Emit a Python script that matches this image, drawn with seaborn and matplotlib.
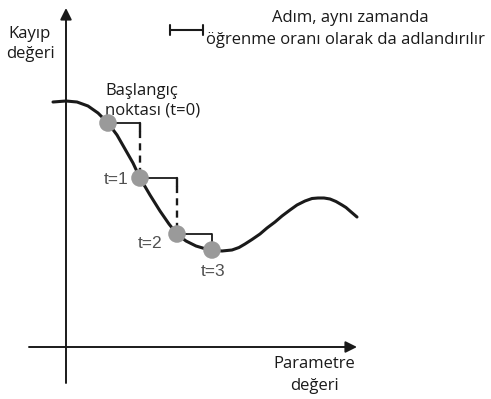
import matplotlib
matplotlib.use("Agg")
import matplotlib.pyplot as plt
import seaborn as sns
import pandas as pd

# Loss curve sampled along the parameter axis
curve_x = [-1.3, 0.0, 1.1, 2.2, 3.2, 4.2, 5.1, 5.9, 6.7, 7.4, 8.4, 9.4, 10.3, 11.1,
           12.0, 13.0, 14.0, 14.6, 15.6, 16.6, 17.3, 17.9, 18.6, 19.4, 20.1, 20.9,
           21.6, 22.4, 23.1, 23.9, 24.6, 25.2, 25.8, 26.4, 27.0, 27.6, 28.0, 28.4,
           29.1]
curve_y = [24.5, 24.6, 24.5, 24.1, 23.4, 22.4, 21.2, 19.8, 18.4, 16.9, 15.2, 13.6,
           12.3, 11.3, 10.6, 10.1, 9.8, 9.7, 9.6, 9.7, 9.95, 10.3, 10.75, 11.3,
           11.9, 12.5, 13.1, 13.7, 14.2, 14.6, 14.85, 14.9, 14.9, 14.8, 14.55,
           14.2, 13.95, 13.6, 13.0]

# Gradient descent iterates
step_x = [4.2, 7.4, 11.1, 14.6]
step_y = [22.4, 16.9, 11.3, 9.7]
step_labels = ["", "t=1", "t=2", "t=3"]

sns.set_theme(style="white")
plt.rcParams["font.family"] = ["Open Sans", "DejaVu Sans"]

fig = plt.figure(figsize=(4.91, 3.99), dpi=100)
ax = fig.add_axes([0, 0, 1, 1])
ax.set_xlim(-6.6, 42.5)
ax.set_ylim(-5.2, 34.7)
ax.axis("off")

ink = "#1a1a1a"

# Coordinate axes with arrow heads
ax.annotate("", xy=(0, 33.9), xytext=(0, -3.6),
            arrowprops=dict(arrowstyle="-|>", color=ink, lw=1.4,
                            mutation_scale=17, shrinkA=0, shrinkB=0))
ax.annotate("", xy=(29.1, 0), xytext=(-3.7, 0),
            arrowprops=dict(arrowstyle="-|>", color=ink, lw=1.4,
                            mutation_scale=17, shrinkA=0, shrinkB=0))

# Loss curve
df = pd.DataFrame({"x": curve_x, "y": curve_y})
sns.lineplot(data=df, x="x", y="y", ax=ax, color=ink, lw=2.2, sort=False,
             estimator=None, solid_joinstyle="round", solid_capstyle="round")

# Step brackets between consecutive iterates
tick = 0.8
for i in range(len(step_x) - 1):
    x0, y0 = step_x[i], step_y[i]
    x1, y1 = step_x[i + 1], step_y[i + 1]
    ax.plot([x0, x1], [y0, y0], color=ink, lw=1.3, solid_capstyle="butt")
    if y0 - y1 > 3:
        ax.plot([x1, x1], [y0, y0 - tick], color=ink, lw=1.7)
        ax.plot([x1, x1], [y0 - tick, y1], color=ink, lw=1.7,
                linestyle=(0, (3, 2.2)))
    else:
        ax.plot([x1, x1], [y0, y1], color=ink, lw=1.3)

pts = pd.DataFrame({"x": step_x, "y": step_y})
sns.scatterplot(data=pts, x="x", y="y", ax=ax, color="#9a9a9a", s=160,
                edgecolor="none", zorder=5)

ax.set_xlabel("")
ax.set_ylabel("")

# Iterate labels
lab_off = [(0, 0), (-2.4, -0.1), (-2.7, -0.9), (0.1, -2.1)]
for i in range(1, len(step_x)):
    dx, dy = lab_off[i]
    ax.text(step_x[i] + dx, step_y[i] + dy, step_labels[i], fontsize=12.5,
            color="#505050", ha="center", va="center",
            family=["Liberation Sans", "DejaVu Sans"])

ax.text(3.9, 22.85, "Başlangıç\nnoktası (t=0)", fontsize=12, color=ink,
        ha="left", va="bottom", linespacing=1.3)

ax.text(-3.6, 30.3, "Kayıp\ndeğeri", fontsize=12, color=ink, ha="center",
        va="center", linespacing=1.35)
ax.text(24.8, -2.8, "Parametre\ndeğeri", fontsize=12, color=ink, ha="center",
        va="center", linespacing=1.55)

# Step-size legend
ax.plot([10.4, 13.7], [31.7, 31.7], color=ink, lw=1.5)
ax.plot([10.4, 10.4], [31.2, 32.2], color=ink, lw=1.5)
ax.plot([13.7, 13.7], [31.2, 32.2], color=ink, lw=1.5)
ax.text(28.4, 32.9, "Adım, aynı zamanda", fontsize=12, color=ink,
        ha="center", va="center")
ax.text(14.0, 30.7, "öğrenme oranı olarak da adlandırılır", fontsize=12,
        color=ink, ha="left", va="center")

fig.savefig("out.png", dpi=100)
